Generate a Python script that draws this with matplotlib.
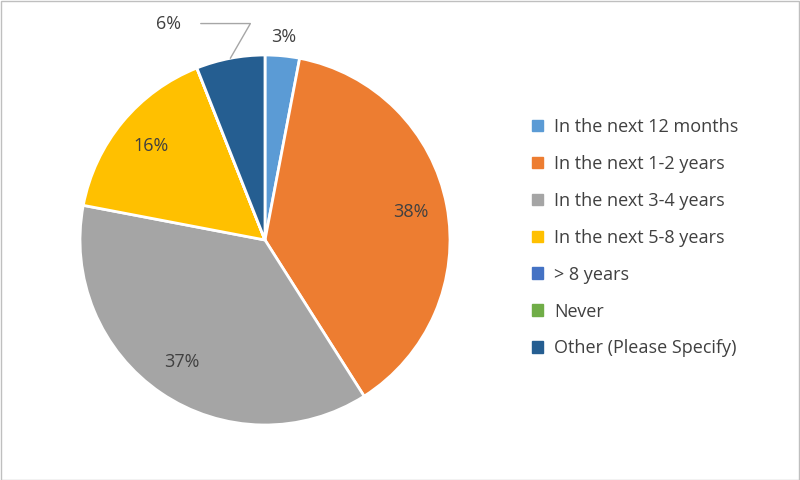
import matplotlib
matplotlib.use("Agg")
import matplotlib.pyplot as plt
import numpy as np

categories = ["In the next 12 months", "In the next 1-2 years", "In the next 3-4 years",
              "In the next 5-8 years", "> 8 years", "Never", "Other (Please Specify)"]
values = [3, 38, 37, 16, 0, 0, 6]
colors = ["#5B9BD5", "#ED7D31", "#A5A5A5", "#FFC000", "#4472C4", "#70AD47", "#255E91"]

plt.rcParams["font.family"] = "Open Sans"
fig = plt.figure(figsize=(8, 4.8), dpi=100)
fig.patches.append(plt.Rectangle((0.001, 0.001), 0.998, 0.997, transform=fig.transFigure,
                                 fill=False, edgecolor="#BFBFBF", linewidth=1))
ax = fig.add_axes([80/800, 55/480, 370/800, 370/480])
wedges, _ = ax.pie(values, colors=colors, startangle=90, counterclock=False,
                   wedgeprops=dict(edgecolor="white", linewidth=2))
ax.set_aspect("equal")
ax.set_xlim(-1, 1); ax.set_ylim(-1, 1)

total = sum(values)
for w, v in zip(wedges, values):
    if v == 0:
        continue
    ang = np.deg2rad((w.theta1 + w.theta2) / 2)
    txt = f"{v}%"
    if v >= 10:
        r = 0.8
        ax.text(r*np.cos(ang), r*np.sin(ang), txt, ha="center", va="center", fontsize=13, color="#404040")
    elif v == 3:
        r = 1.1
        ax.text(r*np.cos(ang), r*np.sin(ang), txt, ha="center", va="center", fontsize=13, color="#404040")
    else:
        ax.annotate(txt, xy=(1.0*np.cos(ang), 1.0*np.sin(ang)), xytext=(-0.52, 1.17),
                    ha="center", va="center", fontsize=13, color="#404040",
                    arrowprops=dict(arrowstyle="-", color="#A6A6A6", lw=1,
                                    connectionstyle="angle,angleA=0,angleB=60,rad=0",
                                    shrinkA=12, shrinkB=0),
                    annotation_clip=False)

handles = [plt.Rectangle((0, 0), 1, 1, color=c) for c in colors]
fig.legend(handles, categories, loc="center left", bbox_to_anchor=(0.645, 0.505),
           frameon=False, fontsize=13, labelcolor="#404040", handlelength=0.6,
           handleheight=0.6, handletextpad=0.6, labelspacing=1.05)
fig.savefig("out.png", dpi=100)
